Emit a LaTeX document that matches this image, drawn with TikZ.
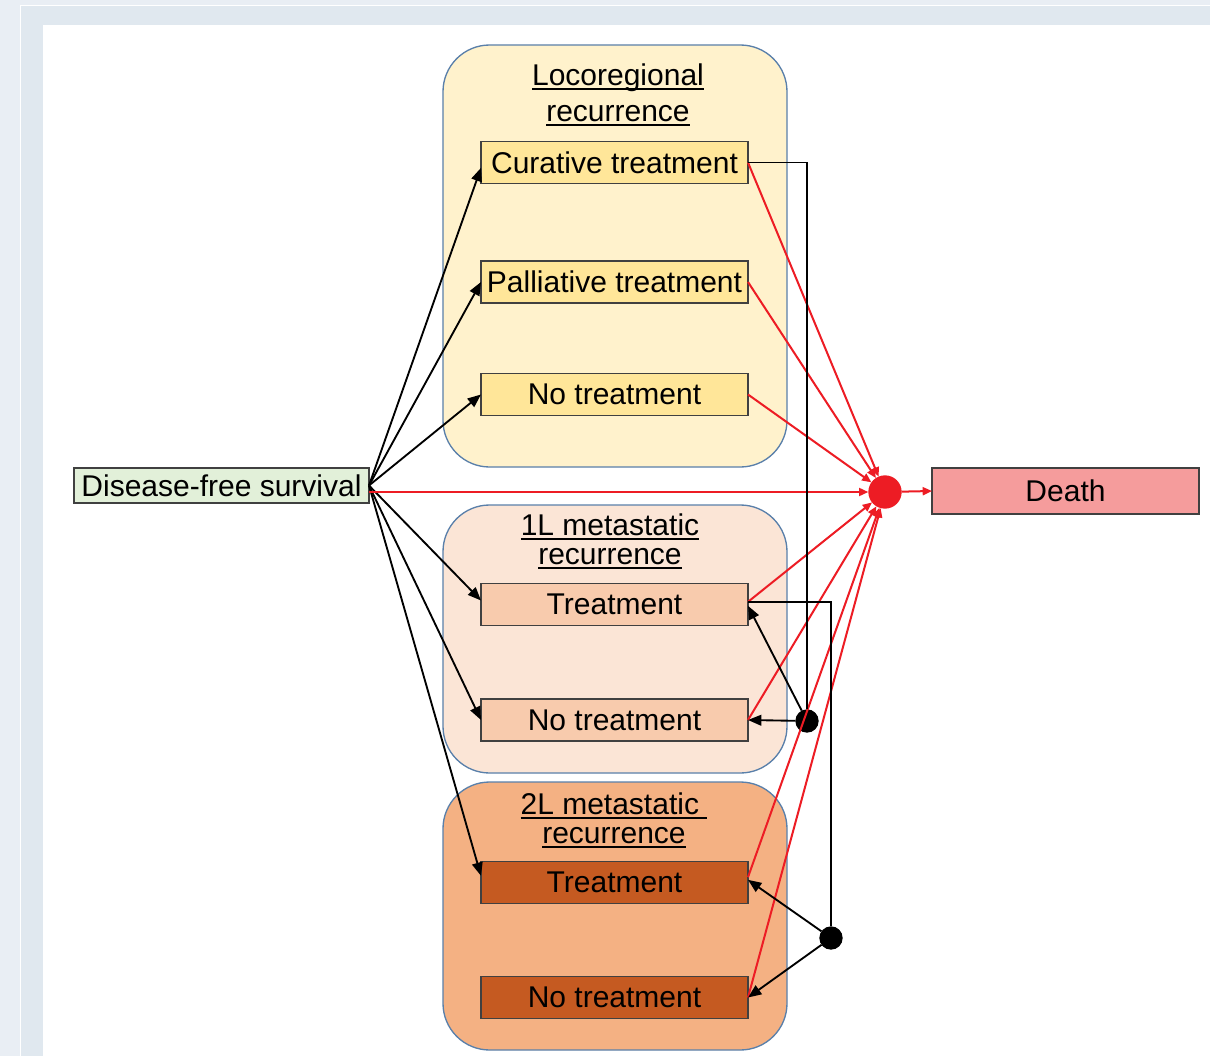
\documentclass[tikz,border=0pt]{standalone}
\usepackage{fontspec}
\setmainfont{Liberation Sans}
\usetikzlibrary{arrows.meta}
\definecolor{bgout}{HTML}{E9EEF4}
\definecolor{bgband}{HTML}{E0E8EF}
\definecolor{contb}{HTML}{5A80AA}
\definecolor{boxb}{HTML}{404040}
\definecolor{locofill}{HTML}{FFF2CC}
\definecolor{locobox}{HTML}{FFE699}
\definecolor{mAfill}{HTML}{FBE5D6}
\definecolor{mAbox}{HTML}{F8CBAD}
\definecolor{mBfill}{HTML}{F4B183}
\definecolor{mBbox}{HTML}{C55A21}
\definecolor{dfsfill}{HTML}{E2F0D9}
\definecolor{deathfill}{HTML}{F59C9C}
\definecolor{redc}{HTML}{ED1C24}
\newsavebox\ulbox
\newcommand\myul[1]{\sbox\ulbox{#1}\rlap{\usebox\ulbox}\rule[-3.6pt]{\wd\ulbox}{1.3pt}}
\begin{document}
\begin{tikzpicture}[x=0.75pt,y=-0.75pt,
  font=\fontsize{22.5pt}{27pt}\selectfont,
  container/.style={draw=contb, line width=1pt, rounded corners=35pt, minimum width=258pt, inner sep=0pt, outer sep=0pt},
  ibox/.style={draw=boxb, line width=0.8pt, minimum width=200.25pt, minimum height=31.5pt, inner sep=0pt, outer sep=0pt},
  ttl/.style={anchor=base, inner sep=0pt},
  blk/.style={line width=1.4pt, -{Triangle[length=10pt,width=8pt]}},
  plainblk/.style={line width=1.2pt},
  redl/.style={draw=redc, line width=1.5pt, -{Triangle[length=7pt,width=6pt]}},
  junc/.style={circle, fill=black, minimum size=17.5pt, inner sep=0pt, outer sep=0pt},
  reddotst/.style={circle, fill=redc, minimum size=25pt, inner sep=0pt, outer sep=0pt}]
\useasboundingbox (0,0) rectangle (1210,1056);
% background
\fill[bgout] (0,0) rectangle (1210,1056);
\fill[white] (20,5) rectangle (1210,1056);
\fill[bgband] (21,6) rectangle (1210,1056);
\fill[white] (43,25) rectangle (1210,1056);

% containers
\node[container, fill=locofill, minimum height=316.5pt] (loco) at (615,256) {};
\node[container, fill=mAfill, minimum height=201pt] (mA) at (615,639) {};
\node[container, fill=mBfill, minimum height=201pt] (mB) at (615,916) {};

% titles
\node[ttl] (t1a) at (618,85) {\myul{Locoregional}};
\node[ttl] (t1b) at (618,121) {\myul{recurrence}};
\node[ttl] (t2a) at (610,535) {\myul{1L metastatic}};
\node[ttl] (t2b) at (610,564) {\myul{recurrence}};
\node[ttl] (t3a) at (614,814) {\myul{2L metastatic\ }};
\node[ttl] (t3b) at (614,843) {\myul{recurrence}};

% boxes
\node[ibox, fill=locobox] (cur) at (614.5,162.5) {Curative treatment};
\node[ibox, fill=locobox] (pal) at (614.5,282) {Palliative treatment};
\node[ibox, fill=locobox] (nt0) at (614.5,394.5) {No treatment};
\node[ibox, fill=mAbox] (m1t) at (614.5,604.5) {Treatment};
\node[ibox, fill=mAbox] (m1n) at (614.5,720) {No treatment};
\node[ibox, fill=mBbox] (m2t) at (614.5,882.5) {Treatment};
\node[ibox, fill=mBbox] (m2n) at (614.5,997.5) {No treatment};

\node[draw=boxb, line width=0.8pt, fill=dfsfill, minimum width=221.25pt, minimum height=26.25pt, inner sep=0pt, outer sep=0pt] (dfs) at (221.5,485.5) {Disease-free survival};
\node[draw=boxb, line width=0.8pt, fill=deathfill, minimum width=200.25pt, minimum height=34.5pt, inner sep=0pt, outer sep=0pt] (death) at (1065.5,491) {Death};

\node[reddotst] (rd) at (885,492) {};
\node[junc] (j1) at (807,721) {};
\node[junc] (j2) at (831,938) {};

% black fan from DFS
\draw[blk] (dfs.east) -- ([yshift=-4pt]cur.west);
\draw[blk] (dfs.east) -- (pal.west);
\draw[blk] (dfs.east) -- (nt0.west);
\draw[blk] (dfs.east) -- ([yshift=3pt]m1t.west);
\draw[blk] (dfs.east) -- (m1n.west);
\draw[blk] (dfs.east) -- ([yshift=5pt]m2t.west);

% red to death dot
\draw[redl] (dfs.east |- rd) -- (rd);
\draw[redl] (cur.east) -- (rd);
\draw[redl] (pal.east) -- (rd);
\draw[redl] (nt0.east) -- (rd);
\draw[redl] ([yshift=2pt]m1t.east) -- (rd);
\draw[redl] (m1n.east) -- (rd);
\draw[redl] ([yshift=4pt]m2t.east) -- (rd);
\draw[redl] (m2n.east) -- (rd);
\draw[redl] (rd) -- (death.west);

% junction connectors
\draw[plainblk] (cur.east) -| (j1);
\draw[blk] (j1) -- (m1n.east);
\draw[blk] (j1) -- ([yshift=-1pt]m1t.east);
\draw[plainblk] ([yshift=2pt]m1t.east) -| (j2);
\draw[blk] (j2) -- ([yshift=2pt]m2t.east);
\draw[blk] (j2) -- (m2n.east);
\end{tikzpicture}
\end{document}
